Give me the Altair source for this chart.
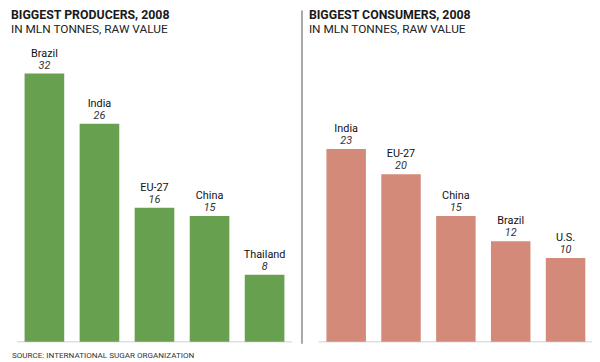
import altair as alt
import pandas as pd

# ---- data ----
producers = ["Brazil", "India", "EU-27", "China", "Thailand"]
producer_values = [32, 26, 16, 15, 8]
consumers = ["India", "EU-27", "China", "Brazil", "U.S."]
consumer_values = [23, 20, 15, 12, 10]

left_title = "BIGGEST PRODUCERS, 2008"
right_title = "BIGGEST CONSUMERS, 2008"
subtitle = "IN MLN TONNES, RAW VALUE"
source = "SOURCE: INTERNATIONAL SUGAR ORGANIZATION"

FONT = "Roboto"
GREEN = "#67a04f"
SALMON = "#d48a78"

prod_df = pd.DataFrame({"pname": producers, "pvalue": producer_values})
cons_df = pd.DataFrame({"cname": consumers, "cvalue": consumer_values})

yscale = alt.Scale(domain=[0, 32], range=[336, 64])


def panel(df, nf, vf, color, xrange):
    xs = alt.Scale(domain=list(df[nf]), range=xrange,
                   paddingInner=0.28, paddingOuter=0.14)
    base = alt.Chart(df).encode(
        x=alt.X(f"{nf}:N", scale=xs, axis=None),
        y=alt.Y(f"{vf}:Q", scale=yscale, axis=None),
    )
    bars = base.mark_bar(color=color)
    names = base.mark_text(font=FONT, fontSize=11, fontWeight="normal",
                           color="#111111", baseline="alphabetic",
                           dy=-17).encode(text=f"{nf}:N")
    vals = base.mark_text(font=FONT, fontSize=11, fontStyle="italic",
                          color="#333333", baseline="alphabetic",
                          dy=-5).encode(text=f"{vf}:Q")
    return [bars, names, vals]


left = panel(prod_df, "pname", "pvalue", GREEN, [9, 288])
right = panel(cons_df, "cname", "cvalue", SALMON, [315, 593])

one = pd.DataFrame({"a": [0]})

baselines = [
    alt.Chart(one).mark_rule(color="#d0d0d0", strokeWidth=1).encode(
        x=alt.value(9), x2=alt.value(288), y=alt.value(336)),
    alt.Chart(one).mark_rule(color="#d0d0d0", strokeWidth=1).encode(
        x=alt.value(315), x2=alt.value(593), y=alt.value(336)),
]


def label(text, x, y, size, weight="normal", color="#1a1a1a"):
    return alt.Chart(pd.DataFrame({"t": [text]})).mark_text(
        font=FONT, fontSize=size, fontWeight=weight, color=color,
        align="left", baseline="alphabetic"
    ).encode(text="t:N", x=alt.value(x), y=alt.value(y))


titles = [
    label(left_title, 3, 9, 12.5, "bold"),
    label(subtitle, 3, 23, 12, "normal", "#222222"),
    label(right_title, 305, 9, 12.5, "bold"),
    label(subtitle, 305, 23, 12, "normal", "#222222"),
    label(source, 4, 352, 8.2, "normal", "#333333"),
]

divider = alt.Chart(one).mark_rule(
    color="#8a8a8a", strokeWidth=1.5
).encode(x=alt.value(298), y=alt.value(0), y2=alt.value(338))

chart = alt.layer(*baselines, *left, *right, divider, *titles).resolve_scale(
    x="independent"
).properties(
    width=592, height=354,
    autosize=alt.AutoSizeParams(type="none"),
    padding=0,
).configure_view(stroke=None)

chart.save("out.html", embed_options={"renderer": "svg", "actions": False})
